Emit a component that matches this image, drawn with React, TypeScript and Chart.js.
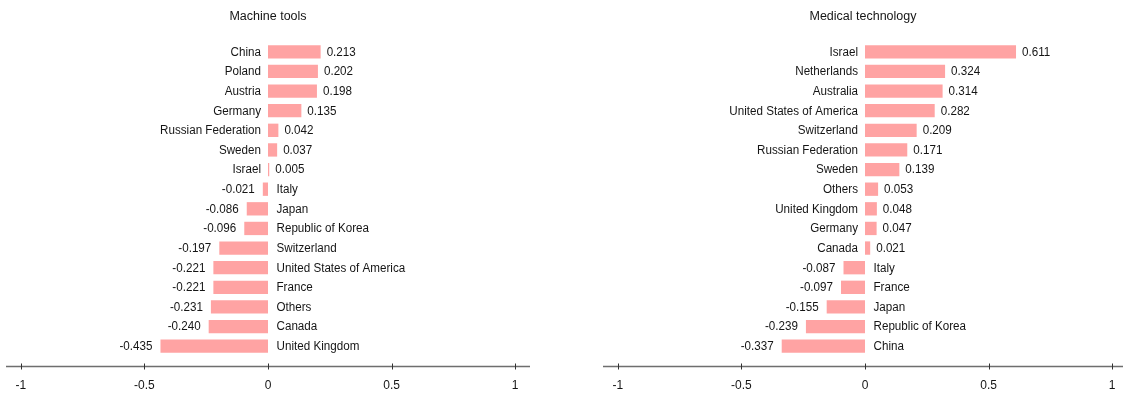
import React, { useEffect, useRef } from "react";
import { Chart, registerables } from "chart.js";

Chart.register(...registerables);

const machineTitle = "Machine tools";
const machineCategories = [
  "China", "Poland", "Austria", "Germany", "Russian Federation", "Sweden", "Israel", "Italy",
  "Japan", "Republic of Korea", "Switzerland", "United States of America", "France", "Others",
  "Canada", "United Kingdom",
];
const machineValues = [
  0.213, 0.202, 0.198, 0.135, 0.042, 0.037, 0.005, -0.021,
  -0.086, -0.096, -0.197, -0.221, -0.221, -0.231, -0.24, -0.435,
];

const medicalTitle = "Medical technology";
const medicalCategories = [
  "Israel", "Netherlands", "Australia", "United States of America", "Switzerland",
  "Russian Federation", "Sweden", "Others", "United Kingdom", "Germany", "Canada", "Italy",
  "France", "Japan", "Republic of Korea", "China",
];
const medicalValues = [
  0.611, 0.324, 0.314, 0.282, 0.209, 0.171, 0.139, 0.053, 0.048, 0.047, 0.021, -0.087,
  -0.097, -0.155, -0.239, -0.337,
];

const tickValues = [-1, -0.5, 0, 0.5, 1];

const FONT = "'Liberation Sans', Arial, sans-serif";
const TEXT = "#151515";
const BAR = "#FFA3A3";
const SX = 0.97;

function drawText(ctx: any, text: string, x: number, y: number, align: string) {
  ctx.save();
  ctx.translate(x, y);
  ctx.scale(SX, 1);
  ctx.textAlign = align;
  ctx.fillText(text, 0, 0);
  ctx.restore();
}

const labelPlugin = {
  id: "barLabels",
  afterDatasetsDraw(chart: any) {
    const ctx = chart.ctx;
    const xs = chart.scales.x;
    const x0 = xs.getPixelForValue(0);
    const meta = chart.getDatasetMeta(0);
    const vals = chart.data.datasets[0].data as number[];
    const labels = chart.data.labels as string[];
    ctx.save();
    ctx.font = `12px ${FONT}`;
    ctx.fillStyle = TEXT;
    ctx.textBaseline = "middle";
    meta.data.forEach((el: any, i: number) => {
      const v = vals[i];
      const y = el.y + 0.5;
      if (v >= 0) {
        drawText(ctx, labels[i], x0 - 7, y, "right");
        drawText(ctx, v.toFixed(3), el.x + 6, y, "left");
      } else {
        drawText(ctx, v.toFixed(3), el.x - 8, y, "right");
        drawText(ctx, labels[i], x0 + 8.5, y, "left");
      }
    });
    ctx.restore();
  },
};

const axisPlugin = {
  id: "axisLine",
  afterDraw(chart: any) {
    const ctx = chart.ctx;
    const xs = chart.scales.x;
    const { left, right, bottom } = chart.chartArea;
    const y = Math.round(bottom + 10) + 0.5;
    ctx.save();
    ctx.strokeStyle = "#6e6e6e";
    ctx.lineWidth = 1.5;
    ctx.beginPath();
    ctx.moveTo(left, y);
    ctx.lineTo(right, y);
    ctx.stroke();
    ctx.strokeStyle = "#333";
    ctx.lineWidth = 1;
    xs.ticks.forEach((t: any) => {
      const x = Math.round(xs.getPixelForValue(t.value)) + 0.5;
      ctx.beginPath();
      ctx.moveTo(x, y - 3);
      ctx.lineTo(x, y + 3);
      ctx.stroke();
    });
    ctx.restore();
  },
};

function Panel(props: {
  title: string;
  categories: string[];
  values: number[];
  left: number;
  width: number;
  min: number;
  max: number;
}) {
  const ref = useRef<HTMLCanvasElement>(null);
  useEffect(() => {
    if (!ref.current) return;
    const chart = new Chart(ref.current, {
      type: "bar",
      data: {
        labels: props.categories,
        datasets: [
          {
            data: props.values,
            backgroundColor: BAR,
            borderWidth: 0,
            categoryPercentage: 1,
            barPercentage: 0.68,
          },
        ],
      },
      options: {
        indexAxis: "y",
        animation: false,
        responsive: false,
        devicePixelRatio: 1,
        layout: { padding: 0 },
        plugins: {
          legend: { display: false },
          tooltip: { enabled: false },
          title: {
            display: true,
            text: props.title,
            color: TEXT,
            font: { family: FONT, size: 12.5, weight: "normal" },
            padding: { top: 9, bottom: 18 },
          },
        },
        scales: {
          y: { display: false },
          x: {
            type: "linear",
            min: props.min,
            max: props.max,
            afterBuildTicks: (scale: any) => {
              scale.ticks = tickValues.map((v) => ({ value: v }));
            },
            afterFit: (scale: any) => {
              scale.paddingLeft = 0;
              scale.paddingRight = 0;
              scale.height = 38;
            },
            grid: { display: false, drawTicks: false },
            border: { display: false },
            ticks: {
              color: TEXT,
              padding: 22,
              font: { family: FONT, size: 12 },
              callback: (v: any) => String(v),
            },
          },
        },
      } as any,
      plugins: [labelPlugin, axisPlugin],
    });
    return () => chart.destroy();
  }, []);
  return (
    <canvas
      ref={ref}
      width={props.width}
      height={394}
      style={{ position: "absolute", left: props.left, top: 0 }}
    />
  );
}

export default function App() {
  return (
    <div
      style={{
        position: "absolute",
        left: 0,
        top: 0,
        width: 1123,
        height: 394,
        overflow: "hidden",
        background: "#fff",
      }}
    >
      <Panel
        title={machineTitle}
        categories={machineCategories}
        values={machineValues}
        left={6}
        width={524}
        min={-1.06}
        max={1.06}
      />
      <Panel
        title={medicalTitle}
        categories={medicalCategories}
        values={medicalValues}
        left={603}
        width={520}
        min={-1.06}
        max={-1.06 + 520 / 247.17}
      />
    </div>
  );
}
